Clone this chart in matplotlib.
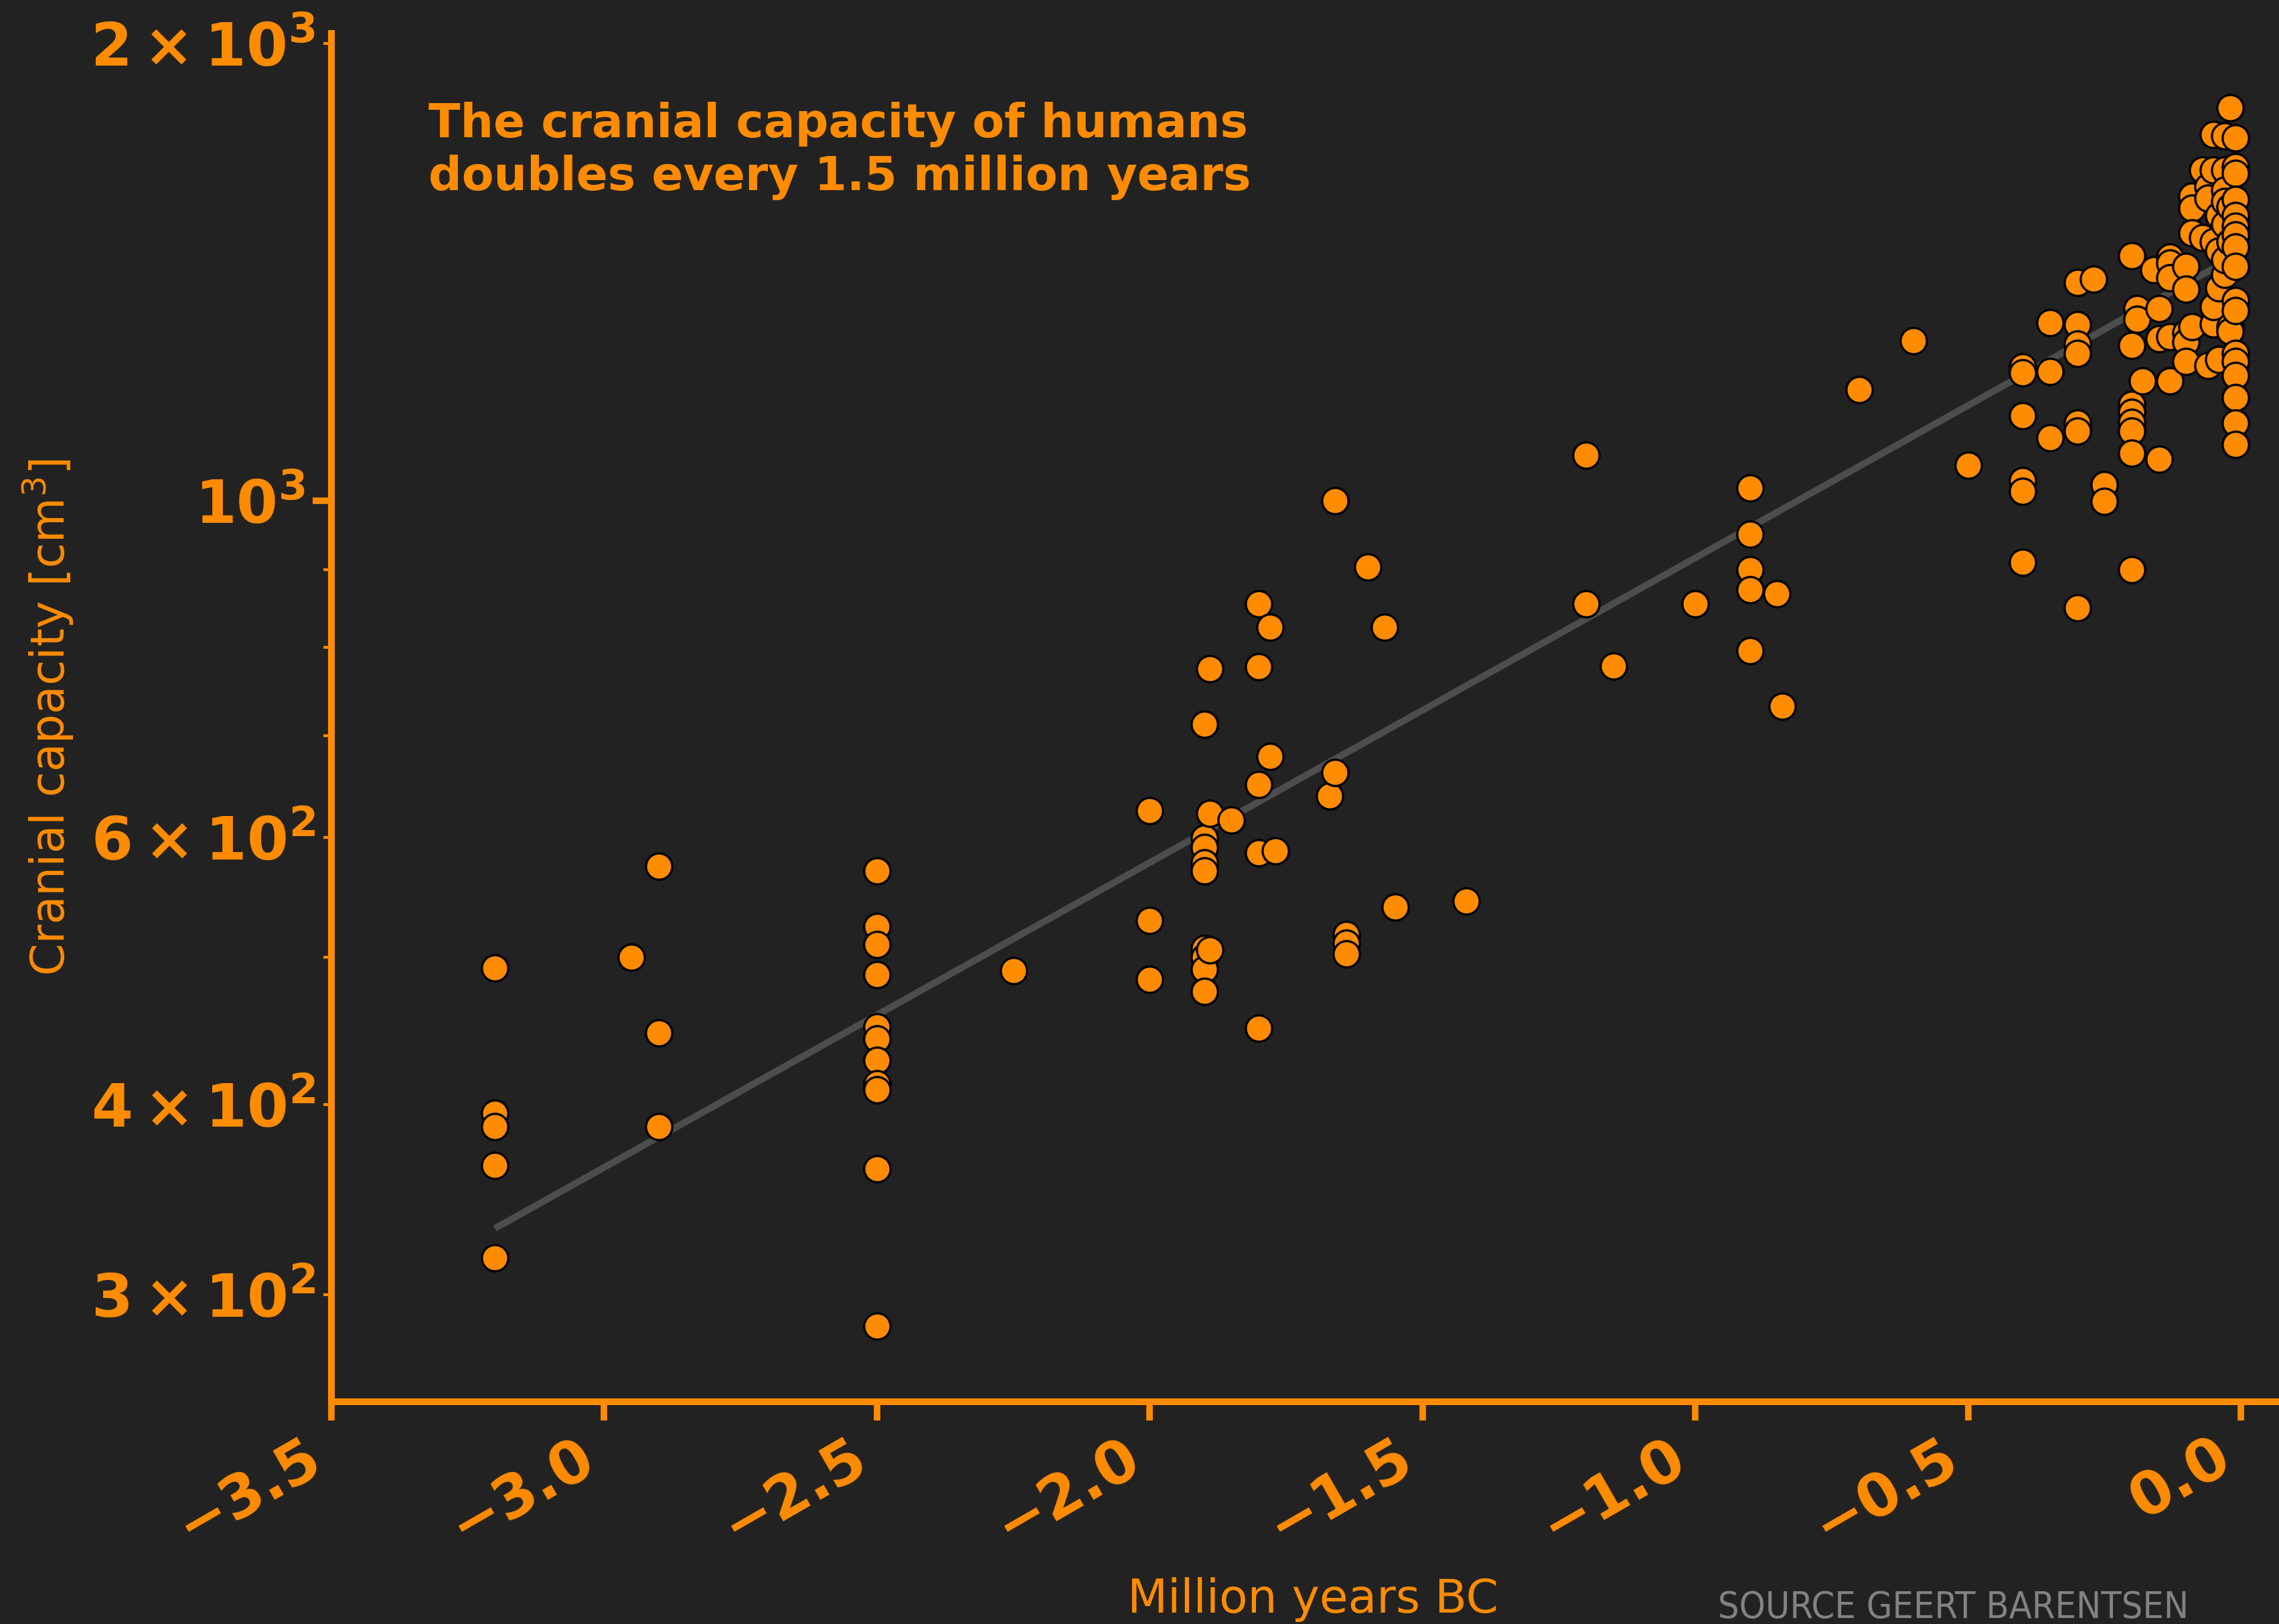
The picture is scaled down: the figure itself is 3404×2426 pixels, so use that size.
import numpy as np
import matplotlib
matplotlib.use("Agg")
import matplotlib.pyplot as plt

# Hominin cranial capacity against age (million years, negative = before present)
years = [
    -3.2, -3.2, -3.2, -3.2, -3.2,
    -2.95,
    -2.9, -2.9, -2.9,
    -2.5, -2.5, -2.5, -2.5, -2.5, -2.5, -2.5, -2.5, -2.5, -2.5, -2.5,
    -2.25,
    -2.0, -2.0, -2.0,
    -1.9, -1.9, -1.9, -1.9, -1.9, -1.9, -1.9, -1.9, -1.9,
    -1.89, -1.89, -1.89,
    -1.85,
    -1.8, -1.8, -1.8, -1.8, -1.8,
    -1.78, -1.78,
    -1.77,
    -1.67,
    -1.66, -1.66,
    -1.64, -1.64, -1.64,
    -1.6,
    -1.57,
    -1.55,
    -1.42,
    -1.2, -1.2,
    -1.15,
    -1.0,
    -0.9, -0.9, -0.9, -0.9, -0.9,
    -0.85,
    -0.84,
    -0.7,
    -0.6,
    -0.5,
    -0.4, -0.4, -0.4, -0.4, -0.4, -0.4,
    -0.35, -0.35, -0.35,
    -0.3, -0.3, -0.3, -0.3, -0.3, -0.3, -0.3,
    -0.27,
    -0.25, -0.25,
    -0.2, -0.2, -0.2, -0.2, -0.2, -0.2, -0.2, -0.2,
    -0.19, -0.19,
    -0.18,
    -0.16,
    -0.15, -0.15, -0.15,
    -0.13, -0.13, -0.13, -0.13, -0.13,
    -0.1, -0.1, -0.1, -0.1, -0.1,
    -0.09, -0.09, -0.09, -0.09,
    -0.07, -0.07,
    -0.06, -0.06, -0.06,
    -0.05, -0.05, -0.05, -0.05, -0.05,
    -0.04, -0.04, -0.04, -0.04,
    -0.03, -0.03, -0.03, -0.03, -0.03, -0.03, -0.03,
    -0.02, -0.02, -0.02, -0.02, -0.02,
    -0.01, -0.01, -0.01, -0.01, -0.01, -0.01, -0.01, -0.01, -0.01,
    -0.01, -0.01, -0.01, -0.01, -0.01, -0.01, -0.01, -0.01,
]
capacity = [
    492, 395, 387, 365, 317,
    500,
    574, 446, 387,
    570, 524, 510, 487, 450, 442, 428, 413, 409, 363, 286,
    490,
    625, 529, 484,
    712, 599, 591, 577, 570, 507, 500, 491, 475,
    775, 622, 506,
    616,
    855, 777, 650, 586, 449,
    825, 678,
    588,
    639,
    1000, 662,
    518, 511, 503,
    904,
    825,
    540,
    545,
    1071, 855,
    778,
    855,
    1019, 950, 900, 873, 796,
    868,
    732,
    1183,
    1274,
    1055,
    1224, 1214, 1137, 1030, 1014, 910,
    1309, 1216, 1100,
    1391, 1305, 1268, 1249, 1124, 1111, 850,
    1399,
    1024, 999,
    1449, 1265, 1157, 1143, 1126, 1111, 1074, 900,
    1337, 1316,
    1199,
    1419,
    1338, 1278, 1065,
    1446, 1433, 1402, 1282, 1199,
    1426, 1377, 1289, 1272, 1234,
    1587, 1558, 1500, 1302,
    1650, 1490,
    1609, 1581, 1227,
    1742, 1650, 1480, 1307, 1342,
    1238, 1540, 1460, 1380,
    1738, 1650, 1600, 1573, 1408, 1520, 1440,
    1813, 1302, 1292, 1560, 1480,
    1733, 1659, 1642, 1578, 1541, 1515, 1495, 1468, 1426,
    1354, 1333, 1250, 1234, 1209, 1169, 1124, 1088,
]

x_ticks = [-3.5, -3.0, -2.5, -2.0, -1.5, -1.0, -0.5, 0.0]

# exponential trend: doubling time and present-day level
doubling_myr = 1.5
present_cc = 1455

BG = "#222222"
ORANGE = "#FF8C00"
FIT_GREY = "#4D4D4D"

plt.rcParams.update({
    "font.family": "DejaVu Sans",
    "figure.facecolor": BG,
    "axes.facecolor": BG,
    "savefig.facecolor": BG,
})

fig = plt.figure(figsize=(17.02, 12.13), dpi=200)
ax = fig.add_axes([0.1454, 0.1369, 0.8546, 0.8425])

x = np.array(years)
y = np.array(capacity, dtype=float)

fit_x = np.array([x.min(), x.max()])
fit_y = present_cc * 2 ** (fit_x / doubling_myr)
ax.plot(fit_x, fit_y, color=FIT_GREY, lw=3.6, zorder=1, solid_capstyle="butt")

ax.scatter(x, y, s=200, color=ORANGE, edgecolor="black", linewidth=1.2, zorder=2)

ax.set_yscale("log")
ax.set_xlim(-3.5, 0.07)
ax.set_ylim(255, 2030)
ax.set_xticks(x_ticks)

for side in ["top", "right"]:
    ax.spines[side].set_visible(False)
for side in ["left", "bottom"]:
    ax.spines[side].set_color(ORANGE)
    ax.spines[side].set_linewidth(3.6)

ax.tick_params(which="major", colors=ORANGE, length=10, width=3.5, labelsize=32, pad=4)
ax.tick_params(which="minor", colors=ORANGE, length=4.5, width=1.5, labelsize=32, pad=4)
for lab in ax.get_xticklabels() + ax.get_yticklabels(which="both"):
    lab.set_fontweight("bold")
for lab in ax.get_xticklabels():
    lab.set_rotation(30)
    lab.set_ha("right")

ax.set_xlabel("Million years BC", color=ORANGE, fontsize=25, va="baseline")
ax.xaxis.set_label_coords(0.504, -0.1541)
ax.set_ylabel("Cranial capacity [cm$^3$]", color=ORANGE, fontsize=25,
              va="center", ha="center")
ax.yaxis.set_label_coords(-0.1454, 0.5)

ax.text(0.05, 0.95, "The cranial capacity of humans\ndoubles every 1.5 million years",
        transform=ax.transAxes, ha="left", va="top", color=ORANGE,
        fontsize=25, fontweight="bold")

fig.text(0.7538, 0.0037, "SOURCE GEERT BARENTSEN", color="#808383",
         fontsize=20, fontstretch="condensed", ha="left", va="baseline")

fig.savefig("out.png", dpi=200)
